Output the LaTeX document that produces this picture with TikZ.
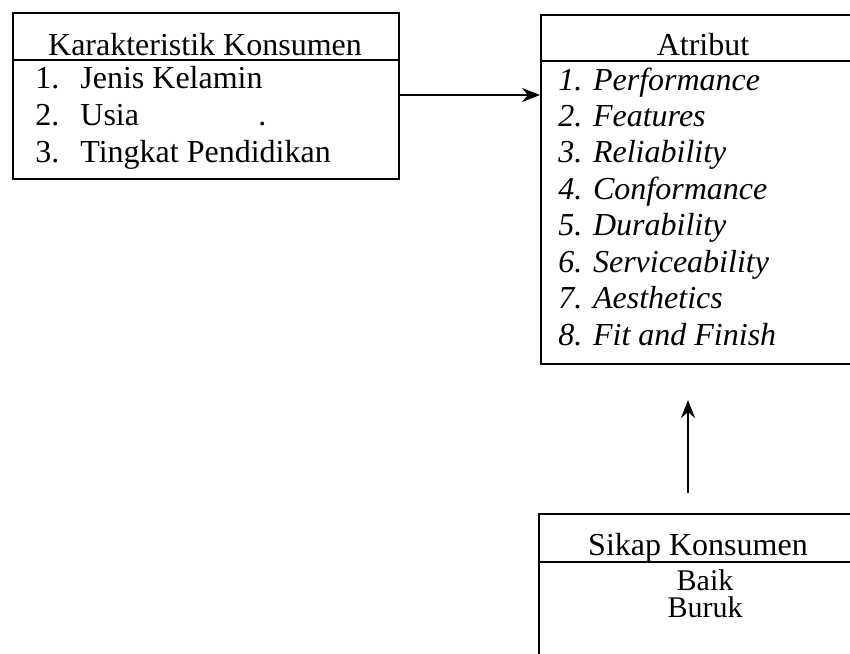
\documentclass[tikz,border=0pt]{standalone}
\usepackage{fontspec}
\setmainfont{Liberation Serif}
\usetikzlibrary{arrows.meta}
\begin{document}
\begin{tikzpicture}[x=0.5pt,y=-0.5pt,
  boxstyle/.style={draw,line width=1pt,rectangle,inner sep=0pt,anchor=north west},
  divline/.style={line width=1pt},
  txt/.style={inner sep=0pt,font=\fontsize{16pt}{18pt}\selectfont},
  itm/.style={txt,anchor=base west},
  ctr/.style={txt,anchor=base},
  arr/.style={line width=1pt,-{Stealth[length=9pt,width=7pt]}}]
\useasboundingbox (0,0) rectangle (850,653);
\clip (0,0) rectangle (850,653);
% boxes
\node[boxstyle,minimum width=193pt,minimum height=83pt] (kar) at (12,12) {};
\node[boxstyle,minimum width=163pt,minimum height=174.5pt] (atr) at (540,14) {};
\node[boxstyle,minimum width=164pt,minimum height=85pt] (sik) at (538,513) {};
% dividers
\draw[divline] (kar.west |- 0,60) -- (kar.east |- 0,60);
\draw[divline] (atr.west |- 0,61) -- (atr.east |- 0,61);
\draw[divline] (sik.west |- 0,562) -- (sik.east |- 0,562);
% left box text
\node[ctr] (karh) at (205,55) {Karakteristik Konsumen};
\node[itm] (k1n) at (35,88) {1.};
\node[itm] (k1) at (80,88) {Jenis Kelamin};
\node[itm] (k2n) at (35,125) {2.};
\node[itm] (k2) at (80,125) {Usia};
\node[itm] (k2d) at (258,125) {.};
\node[itm] (k3n) at (35,162) {3.};
\node[itm] (k3) at (80,162) {Tingkat Pendidikan};
% right box text
\node[ctr] (atrh) at (703,55) {Atribut};
\node[itm] (a1) at (558,90) {\itshape 1. Performance};
\node[itm] (a2) at (558,126.4) {\itshape 2. Features};
\node[itm] (a3) at (558,162.8) {\itshape 3. Reliability};
\node[itm] (a4) at (558,199.2) {\itshape 4. Conformance};
\node[itm] (a5) at (558,235.6) {\itshape 5. Durability};
\node[itm] (a6) at (558,272) {\itshape 6. Serviceability};
\node[itm] (a7) at (558,308.4) {\itshape 7. Aesthetics};
\node[itm] (a8) at (558,345) {\itshape 8. Fit and Finish};
% bottom box text
\node[ctr] (sikh) at (698,555) {Sikap Konsumen};
\node[txt,anchor=base,align=center,font=\fontsize{15pt}{13.5pt}\selectfont] (s1) at (705,617) {Baik\\Buruk};
% connectors
\draw[arr] (kar.east |- 0,95) -- (atr.west |- 0,95);
\coordinate (ax) at (688,0);
\draw[arr,shorten <=10pt,shorten >=17.5pt] (sik.north -| ax) -- (atr.south -| ax);
\end{tikzpicture}
\end{document}
